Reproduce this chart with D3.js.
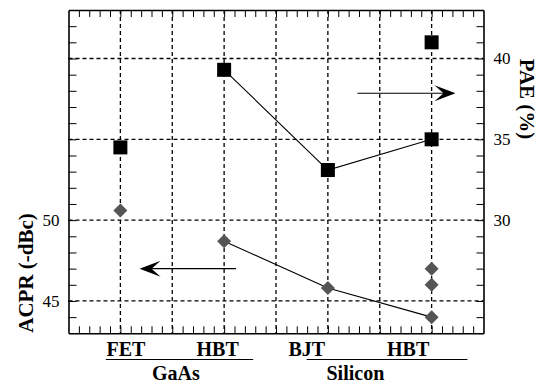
<!DOCTYPE html>
<html><head><meta charset="utf-8">
<script src="https://cdn.jsdelivr.net/npm/d3@7"></script>
<style>
html,body{margin:0;padding:0;background:#fff;}
svg{display:block;}
</style></head>
<body>
<svg id="chart" width="542" height="383"></svg>
<script>
// ---- data ----
const categories = ["FET", "HBT", "BJT", "HBT"];
const catPos = [1, 3, 5, 7];
const groups = ["GaAs", "Silicon"];
const groupSpan = [[0.72, 3.56], [4.59, 7.69]];
const groupLabelPos = [2.07, 5.53];
const paeValues = [34.5, 39.3, 33.1, 35.0];
const paeExtra = [{x: 7, v: 41.0}];
const acprValues = [50.6, 48.7, 45.8, 44.0];
const acprExtra = [{x: 7, v: 46.0}, {x: 7, v: 47.0}];
const linkedIdx = [1, 2, 3];
const leftTicks = [45, 50];
const rightTicks = [30, 35, 40];
const gridY = [45, 50, 55, 60];
const gridX = [1, 2, 3, 4, 5, 6, 7];
const labelShift = [5.5, -6.5, -21, -23.5]; // px shift of category labels
const acprArrow = {y: 47.0, from: 3.23, to: 1.37};
const paeArrow = {y: 37.85, from: 5.57, to: 7.46};

// ---- layout ----
const FONT = "Liberation Serif";
const L = 68.5, R = 483.5, T = 10, B = 333.3;
const svg = d3.select("#chart");
const x = d3.scaleLinear().domain([0, 8]).range([L, R]);
const yL = d3.scaleLinear().domain([43, 63]).range([B, T]);
const yR = d3.scaleLinear().domain([23, 43]).range([B, T]);

// gridlines
const grid = svg.append("g").attr("stroke", "#000").attr("stroke-width", 1.3).attr("stroke-dasharray", "4,3");
grid.selectAll("line.gx").data(gridX).join("line")
  .attr("x1", d => x(d)).attr("x2", d => x(d)).attr("y1", T).attr("y2", B);
grid.selectAll("line.gy").data(gridY).join("line")
  .attr("y1", d => yL(d)).attr("y2", d => yL(d)).attr("x1", L).attr("x2", R);

// axes
const minorX = d3.range(1, 40).map(i => i / 5);
const minorY = d3.range(44, 63);
const minorYR = d3.range(24, 43);
function styleAxis(g) {
  g.selectAll("path.domain").attr("stroke", "#000").attr("stroke-width", 1.6);
  g.selectAll(".tick line").attr("stroke", "#000").attr("stroke-width", 1);
  g.selectAll("text").style("font-family", FONT).style("font-size", "17px").attr("fill", "#000");
}
svg.append("g").attr("transform", `translate(0,${B})`)
  .call(d3.axisBottom(x).tickValues(minorX).tickSizeInner(-7).tickSizeOuter(0).tickFormat(""))
  .call(styleAxis);
svg.append("g").attr("transform", `translate(0,${T})`)
  .call(d3.axisTop(x).tickValues(minorX).tickSizeInner(-7).tickSizeOuter(0).tickFormat(""))
  .call(styleAxis);
svg.append("g").attr("transform", `translate(${L},0)`)
  .call(d3.axisLeft(yL).tickValues(minorY).tickSizeInner(-8).tickSizeOuter(0).tickPadding(9)
    .tickFormat(d => leftTicks.includes(d) ? d : ""))
  .call(styleAxis);
svg.append("g").attr("transform", `translate(${R},0)`)
  .call(d3.axisRight(yR).tickValues(minorYR).tickSizeInner(-7).tickSizeOuter(0).tickPadding(10)
    .tickFormat(d => rightTicks.includes(d) ? d : ""))
  .call(styleAxis);

// lines
const lineL = d3.line().x(i => x(catPos[i])).y(i => yL(acprValues[i]));
const lineR = d3.line().x(i => x(catPos[i])).y(i => yR(paeValues[i]));
svg.append("path").attr("d", lineR(linkedIdx)).attr("fill", "none").attr("stroke", "#000").attr("stroke-width", 1.1);
svg.append("path").attr("d", lineL(linkedIdx)).attr("fill", "none").attr("stroke", "#000").attr("stroke-width", 1.1);

// markers
const paePts = paeValues.map((v, i) => ({x: catPos[i], v})).concat(paeExtra);
const acprPts = acprValues.map((v, i) => ({x: catPos[i], v})).concat(acprExtra);
const sq = 14;
svg.append("g").selectAll("rect").data(paePts).join("rect")
  .attr("x", d => x(d.x) - sq / 2).attr("y", d => yR(d.v) - sq / 2)
  .attr("width", sq).attr("height", sq).attr("fill", "#000");
const dm = 7;
svg.append("g").selectAll("path").data(acprPts).join("path")
  .attr("d", d => { const cx = x(d.x), cy = yL(d.v); return `M${cx},${cy-dm}L${cx+dm},${cy}L${cx},${cy+dm}L${cx-dm},${cy}Z`; })
  .attr("fill", "#555");

// arrows
function arrow(x1, x2, yy) {
  const dir = Math.sign(x2 - x1);
  svg.append("line").attr("x1", x1).attr("x2", x2 - dir * 8).attr("y1", yy).attr("y2", yy)
    .attr("stroke", "#000").attr("stroke-width", 1.2);
  const back = x2 - dir * 21, notch = x2 - dir * 12;
  svg.append("path").attr("d", `M${x2},${yy}L${back},${yy - 8}L${notch},${yy}L${back},${yy + 8}Z`).attr("fill", "#000");
}
arrow(x(acprArrow.from), x(acprArrow.to), yL(acprArrow.y));
arrow(x(paeArrow.from), x(paeArrow.to), yR(paeArrow.y));

// category labels
svg.append("g").selectAll("text").data(categories).join("text")
  .attr("x", (d, i) => x(catPos[i]) + labelShift[i]).attr("y", 356)
  .attr("text-anchor", "middle").style("font-family", FONT).style("font-weight", "bold").style("font-size", "20px").text(d => d);
svg.append("g").selectAll("line").data(groupSpan).join("line")
  .attr("x1", d => x(d[0])).attr("x2", d => x(d[1])).attr("y1", 359.5).attr("y2", 359.5)
  .attr("stroke", "#000").attr("stroke-width", 1.2);
svg.append("g").selectAll("text").data(groups).join("text")
  .attr("x", (d, i) => x(groupLabelPos[i])).attr("y", 380)
  .attr("text-anchor", "middle").style("font-family", FONT).style("font-weight", "bold").style("font-size", "20px").text(d => d);

// axis titles
svg.append("text").attr("transform", "translate(33,273) rotate(-90)")
  .attr("text-anchor", "middle").style("font-family", FONT).style("font-weight", "bold").style("font-size", "21px").text("ACPR (-dBc)");
svg.append("text").attr("transform", "translate(519.5,99) rotate(90)")
  .attr("text-anchor", "middle").style("font-family", FONT).style("font-weight", "bold").style("font-size", "21px").text("PAE (%)");
</script>
</body></html>
